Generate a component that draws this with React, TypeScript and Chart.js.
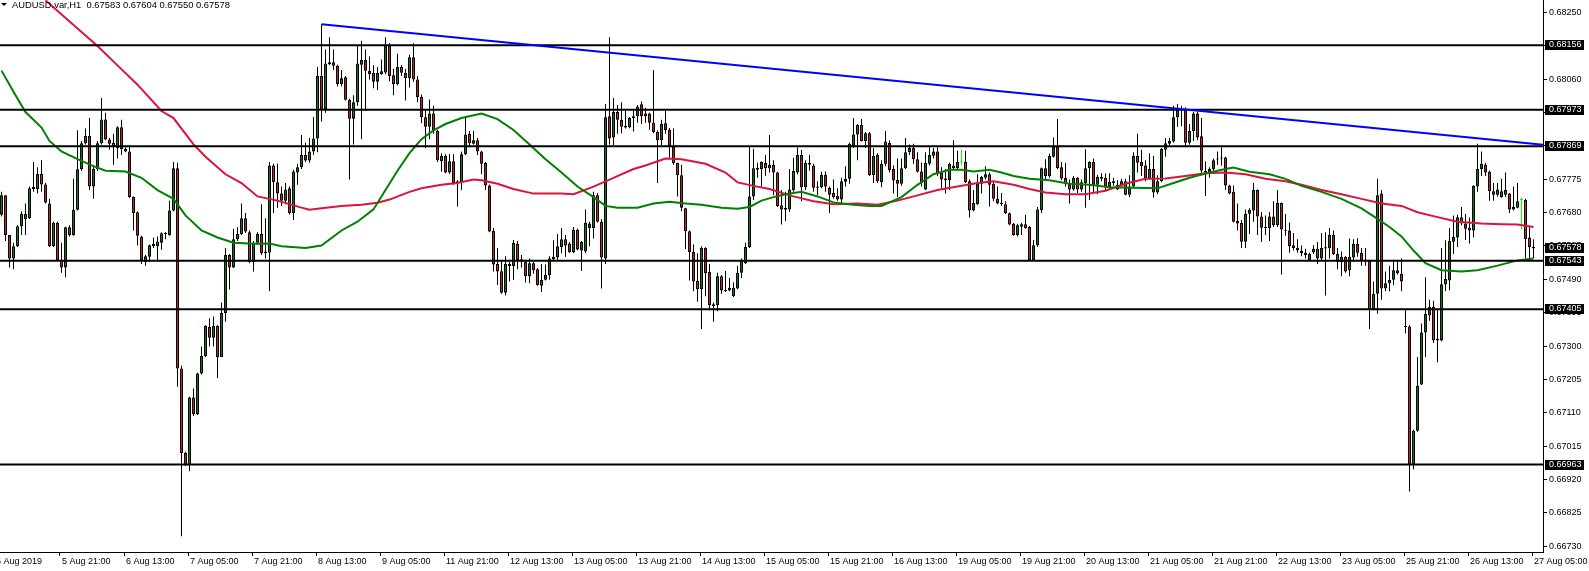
import React, { useEffect, useRef } from 'react';
import { Chart, registerables } from 'chart.js';

Chart.register(...registerables);

// ---------- data (AUDUSD H1, bar 0 = 5 Aug 2019 06:00) ----------
const opens = [
0.67674,0.67729,0.67616,0.67549,0.67584,0.67641,0.67676,0.67664,0.67753,0.67747,
0.67790,0.67760,0.67706,0.67584,0.67651,0.67544,0.67524,0.67638,0.67616,0.67688,
0.67803,0.67877,0.67898,0.67754,0.67804,0.67877,0.67945,0.67888,0.67879,0.67864,
0.67923,0.67861,0.67854,0.67724,0.67681,0.67611,0.67539,0.67554,0.67591,0.67584,
0.67594,0.67619,0.67616,0.67686,0.67806,0.67236,0.66996,0.66961,0.67154,0.67106,
0.67222,0.67272,0.67354,0.67324,0.67357,0.67269,0.67394,0.67559,0.67524,0.67604,
0.67619,0.67664,0.67624,0.67539,0.67594,0.67619,0.67569,0.67566,0.67814,0.67766,
0.67734,0.67714,0.67749,0.67679,0.67794,0.67809,0.67844,0.67828,0.67854,0.67891,
0.68069,0.67974,0.68102,0.68108,0.68098,0.68046,0.68065,0.68001,0.67947,0.67994,
0.68101,0.68114,0.68084,0.68077,0.68052,0.68074,0.68079,0.68156,0.68071,0.68046,
0.68094,0.68078,0.68062,0.68122,0.68059,0.68009,0.67951,0.67924,0.67962,0.67912,
0.67826,0.67842,0.67794,0.67826,0.67764,0.67766,0.67846,0.67904,0.67876,0.67886,
0.67854,0.67821,0.67757,0.67628,0.67534,0.67513,0.67452,0.67528,0.67528,0.67591,
0.67541,0.67539,0.67499,0.67536,0.67519,0.67472,0.67489,0.67502,0.67547,0.67552,
0.67582,0.67604,0.67592,0.67567,0.67631,0.67572,0.67569,0.67636,0.67636,0.67729,
0.67654,0.67549,0.67954,0.67894,0.67966,0.67944,0.67927,0.67922,0.67949,0.67954,
0.67988,0.67954,0.67962,0.67936,0.67909,0.67886,0.67934,0.67916,0.67869,0.67821,
0.67786,0.67692,0.67627,0.67568,0.67486,0.67462,0.67579,0.67511,0.67419,0.67416,
0.67499,0.67456,0.67458,0.67442,0.67464,0.67509,0.67536,0.67582,0.67726,0.67802,
0.67804,0.67821,0.67806,0.67816,0.67794,0.67701,0.67694,0.67689,0.67744,0.67794,
0.67844,0.67752,0.67822,0.67814,0.67751,0.67752,0.67787,0.67750,0.67736,0.67727,
0.67717,0.67768,0.67776,0.67869,0.67902,0.67929,0.67884,0.67906,0.67787,0.67844,
0.67766,0.67819,0.67878,0.67804,0.67773,0.67762,0.67806,0.67852,0.67864,0.67832,
0.67797,0.67746,0.67819,0.67842,0.67854,0.67794,0.67777,0.67772,0.67814,0.67807,
0.67823,0.67824,0.67769,0.67686,0.67704,0.67762,0.67779,0.67789,0.67762,0.67719,
0.67708,0.67704,0.67678,0.67648,0.67616,0.67640,0.67647,0.67639,0.67544,0.67587,
0.67687,0.67806,0.67784,0.67839,0.67867,0.67809,0.67779,0.67764,0.67746,0.67779,
0.67746,0.67764,0.67806,0.67824,0.67759,0.67782,0.67779,0.67752,0.67764,0.67759,
0.67757,0.67769,0.67731,0.67754,0.67841,0.67824,0.67814,0.67776,0.67804,0.67737,
0.67769,0.67859,0.67876,0.67882,0.67951,0.67971,0.67974,0.67879,0.67912,0.67962,
0.67897,0.67798,0.67794,0.67804,0.67831,0.67837,0.67837,0.67757,0.67739,0.67656,
0.67651,0.67597,0.67677,0.67686,0.67744,0.67669,0.67639,0.67636,0.67669,0.67644,
0.67707,0.67628,0.67629,0.67587,0.67579,0.67571,0.67566,0.67544,0.67567,0.67577,
0.67549,0.67578,0.67579,0.67616,0.67562,0.67539,0.67554,0.67516,0.67552,0.67591,
0.67566,0.67546,0.67542,0.67404,0.67449,0.67734,0.67464,0.67479,0.67489,0.67516,
0.67506,0.67356,0.67356,0.66961,0.67059,0.67191,0.67339,0.67387,0.67411,0.67321,
0.67316,0.67476,0.67487,0.67597,0.67609,0.67667,0.67649,0.67637,0.67629,0.67754,
0.67804,0.67816,0.67796,0.67741,0.67731,0.67724,0.67731,0.67734,0.67696,0.67694,
0.67716,0.67716,0.67609,0.67583
];

const highs = [
0.67739,0.67729,0.67616,0.67594,0.67644,0.67684,0.67706,0.67754,0.67824,0.67809,
0.67829,0.67764,0.67719,0.67654,0.67654,0.67594,0.67640,0.67644,0.67776,0.67914,
0.67884,0.67919,0.67949,0.67814,0.67884,0.68006,0.67964,0.67892,0.67904,0.67926,
0.67944,0.67866,0.67872,0.67726,0.67684,0.67614,0.67559,0.67589,0.67609,0.67612,
0.67624,0.67624,0.67714,0.67824,0.67822,0.67244,0.66999,0.67156,0.67179,0.67224,
0.67299,0.67359,0.67379,0.67384,0.67359,0.67424,0.67579,0.67562,0.67634,0.67639,
0.67706,0.67679,0.67629,0.67599,0.67624,0.67704,0.67664,0.67824,0.67819,0.67819,
0.67754,0.67764,0.67754,0.67802,0.67819,0.67901,0.67879,0.67892,0.67952,0.68094,
0.68216,0.68144,0.68179,0.68144,0.68101,0.68086,0.68069,0.68004,0.68014,0.68154,
0.68169,0.68144,0.68124,0.68099,0.68094,0.68116,0.68179,0.68162,0.68089,0.68132,
0.68099,0.68089,0.68129,0.68162,0.68069,0.68016,0.67974,0.68002,0.67984,0.67916,
0.67849,0.67846,0.67847,0.67846,0.67772,0.67854,0.67954,0.67912,0.67912,0.67892,
0.67856,0.67824,0.67759,0.67636,0.67579,0.67544,0.67556,0.67539,0.67602,0.67599,
0.67559,0.67542,0.67549,0.67539,0.67522,0.67534,0.67532,0.67556,0.67601,0.67619,
0.67636,0.67616,0.67596,0.67639,0.67634,0.67599,0.67689,0.67654,0.67739,0.67736,
0.67662,0.67989,0.68179,0.68006,0.67986,0.67994,0.67969,0.67952,0.67972,0.67986,
0.67996,0.67978,0.67964,0.68086,0.67914,0.67944,0.67969,0.67921,0.67919,0.67822,
0.67816,0.67694,0.67629,0.67589,0.67564,0.67584,0.67581,0.67534,0.67424,0.67509,
0.67502,0.67514,0.67494,0.67482,0.67529,0.67549,0.67594,0.67869,0.67862,0.67822,
0.67826,0.67844,0.67901,0.67829,0.67796,0.67744,0.67739,0.67804,0.67836,0.67866,
0.67858,0.67829,0.67844,0.67819,0.67769,0.67796,0.67797,0.67754,0.67774,0.67749,
0.67779,0.67812,0.67879,0.67949,0.67932,0.67946,0.67909,0.67909,0.67864,0.67849,
0.67829,0.67912,0.67886,0.67814,0.67834,0.67834,0.67892,0.67874,0.67876,0.67852,
0.67822,0.67852,0.67866,0.67864,0.67866,0.67809,0.67804,0.67822,0.67886,0.67856,
0.67859,0.67856,0.67774,0.67744,0.67789,0.67784,0.67812,0.67794,0.67766,0.67754,
0.67736,0.67712,0.67680,0.67650,0.67648,0.67651,0.67674,0.67642,0.67602,0.67696,
0.67808,0.67832,0.67848,0.67894,0.67946,0.67824,0.67821,0.67774,0.67784,0.67781,
0.67774,0.67860,0.67826,0.67834,0.67788,0.67792,0.67791,0.67792,0.67779,0.67772,
0.67776,0.67776,0.67786,0.67852,0.67904,0.67859,0.67829,0.67849,0.67842,0.67786,
0.67864,0.67892,0.67892,0.67984,0.67989,0.67984,0.67979,0.67932,0.67966,0.67966,
0.67949,0.67826,0.67809,0.67834,0.67854,0.67866,0.67839,0.67759,0.67757,0.67706,
0.67659,0.67689,0.67692,0.67764,0.67746,0.67682,0.67672,0.67682,0.67712,0.67744,
0.67709,0.67676,0.67652,0.67622,0.67604,0.67586,0.67577,0.67566,0.67587,0.67596,
0.67622,0.67624,0.67636,0.67629,0.67579,0.67569,0.67556,0.67606,0.67604,0.67607,
0.67579,0.67579,0.67546,0.67484,0.67776,0.67744,0.67512,0.67529,0.67546,0.67544,
0.67549,0.67402,0.67359,0.67062,0.67269,0.67364,0.67496,0.67432,0.67429,0.67404,
0.67579,0.67601,0.67636,0.67672,0.67674,0.67696,0.67676,0.67666,0.67758,0.67876,
0.67854,0.67822,0.67799,0.67764,0.67764,0.67776,0.67794,0.67736,0.67754,0.67764,
0.67722,0.67719,0.67639,0.67604
];

const lows = [
0.67669,0.67599,0.67524,0.67519,0.67582,0.67616,0.67616,0.67662,0.67739,0.67734,
0.67739,0.67706,0.67582,0.67582,0.67542,0.67509,0.67496,0.67612,0.67614,0.67686,
0.67799,0.67874,0.67744,0.67719,0.67799,0.67874,0.67886,0.67859,0.67816,0.67834,
0.67844,0.67852,0.67722,0.67629,0.67586,0.67534,0.67529,0.67539,0.67579,0.67539,
0.67574,0.67604,0.67614,0.67684,0.67184,0.66759,0.66959,0.66944,0.67101,0.67104,
0.67219,0.67269,0.67299,0.67299,0.67209,0.67269,0.67369,0.67461,0.67522,0.67599,
0.67616,0.67622,0.67536,0.67512,0.67589,0.67559,0.67549,0.67456,0.67679,0.67694,
0.67699,0.67704,0.67674,0.67659,0.67759,0.67804,0.67824,0.67822,0.67844,0.67852,
0.67939,0.67964,0.68099,0.68086,0.68039,0.68039,0.67999,0.67774,0.67874,0.67984,
0.67889,0.67969,0.68059,0.68034,0.68029,0.68072,0.68074,0.68054,0.68014,0.68042,
0.68069,0.67999,0.68036,0.68052,0.67994,0.67934,0.67864,0.67889,0.67904,0.67824,
0.67796,0.67792,0.67790,0.67759,0.67697,0.67744,0.67844,0.67866,0.67874,0.67844,
0.67789,0.67744,0.67624,0.67512,0.67474,0.67449,0.67444,0.67484,0.67489,0.67519,
0.67524,0.67481,0.67479,0.67506,0.67472,0.67454,0.67487,0.67489,0.67544,0.67544,
0.67564,0.67554,0.67566,0.67564,0.67572,0.67514,0.67564,0.67584,0.67606,0.67652,
0.67464,0.67534,0.67874,0.67872,0.67904,0.67906,0.67919,0.67920,0.67911,0.67936,
0.67932,0.67936,0.67916,0.67906,0.67764,0.67872,0.67904,0.67836,0.67816,0.67726,
0.67684,0.67576,0.67487,0.67456,0.67426,0.67349,0.67442,0.67402,0.67369,0.67399,
0.67449,0.67454,0.67456,0.67440,0.67462,0.67494,0.67534,0.67579,0.67716,0.67779,
0.67754,0.67784,0.67794,0.67729,0.67696,0.67646,0.67656,0.67682,0.67739,0.67789,
0.67712,0.67744,0.67799,0.67739,0.67729,0.67749,0.67739,0.67679,0.67719,0.67714,
0.67706,0.67754,0.67762,0.67864,0.67829,0.67882,0.67864,0.67784,0.67764,0.67764,
0.67752,0.67812,0.67794,0.67734,0.67724,0.67756,0.67804,0.67844,0.67819,0.67794,
0.67754,0.67744,0.67814,0.67834,0.67784,0.67749,0.67734,0.67744,0.67804,0.67804,
0.67814,0.67764,0.67666,0.67684,0.67702,0.67734,0.67774,0.67697,0.67712,0.67704,
0.67699,0.67676,0.67644,0.67614,0.67612,0.67616,0.67634,0.67542,0.67542,0.67582,
0.67679,0.67772,0.67779,0.67836,0.67804,0.67772,0.67754,0.67706,0.67742,0.67736,
0.67739,0.67694,0.67716,0.67736,0.67732,0.67769,0.67744,0.67744,0.67756,0.67744,
0.67754,0.67729,0.67724,0.67749,0.67794,0.67784,0.67769,0.67774,0.67722,0.67732,
0.67766,0.67839,0.67872,0.67879,0.67924,0.67926,0.67866,0.67874,0.67884,0.67886,
0.67789,0.67727,0.67779,0.67792,0.67816,0.67814,0.67744,0.67732,0.67652,0.67629,
0.67579,0.67579,0.67619,0.67654,0.67616,0.67596,0.67616,0.67599,0.67639,0.67639,
0.67504,0.67614,0.67566,0.67572,0.67566,0.67556,0.67549,0.67542,0.67562,0.67534,
0.67546,0.67444,0.67549,0.67559,0.67519,0.67499,0.67509,0.67499,0.67539,0.67554,
0.67529,0.67529,0.67349,0.67402,0.67392,0.67432,0.67456,0.67456,0.67474,0.67504,
0.67456,0.67336,0.66886,0.66949,0.67056,0.67189,0.67269,0.67372,0.67309,0.67254,
0.67314,0.67456,0.67459,0.67562,0.67582,0.67644,0.67602,0.67592,0.67609,0.67739,
0.67784,0.67784,0.67714,0.67714,0.67726,0.67722,0.67724,0.67679,0.67686,0.67692,
0.67632,0.67549,0.67549,0.67550
];

const closes = [
0.67729,0.67616,0.67549,0.67584,0.67641,0.67676,0.67662,0.67749,0.67747,0.67790,
0.67760,0.67709,0.67584,0.67651,0.67544,0.67524,0.67638,0.67616,0.67688,0.67803,
0.67877,0.67898,0.67754,0.67804,0.67877,0.67945,0.67888,0.67876,0.67869,0.67923,
0.67861,0.67854,0.67724,0.67679,0.67614,0.67544,0.67556,0.67587,0.67584,0.67598,
0.67621,0.67621,0.67686,0.67806,0.67236,0.66996,0.66961,0.67154,0.67106,0.67222,
0.67272,0.67357,0.67324,0.67357,0.67269,0.67394,0.67559,0.67524,0.67604,0.67619,
0.67664,0.67626,0.67539,0.67594,0.67619,0.67564,0.67564,0.67814,0.67766,0.67734,
0.67714,0.67746,0.67679,0.67797,0.67809,0.67844,0.67828,0.67854,0.67891,0.68069,
0.67974,0.68104,0.68108,0.68098,0.68046,0.68062,0.68001,0.67947,0.67994,0.68104,
0.68114,0.68084,0.68074,0.68052,0.68077,0.68082,0.68156,0.68069,0.68046,0.68094,
0.68078,0.68062,0.68122,0.68059,0.68009,0.67951,0.67924,0.67962,0.67912,0.67829,
0.67842,0.67794,0.67826,0.67764,0.67769,0.67846,0.67902,0.67877,0.67886,0.67854,
0.67819,0.67757,0.67626,0.67532,0.67512,0.67452,0.67534,0.67534,0.67594,0.67544,
0.67547,0.67499,0.67536,0.67516,0.67474,0.67489,0.67502,0.67549,0.67554,0.67584,
0.67604,0.67586,0.67567,0.67631,0.67575,0.67596,0.67651,0.67649,0.67729,0.67654,
0.67552,0.67951,0.67891,0.67966,0.67944,0.67924,0.67922,0.67949,0.67954,0.67982,
0.67954,0.67962,0.67936,0.67909,0.67886,0.67932,0.67914,0.67869,0.67821,0.67786,
0.67694,0.67627,0.67568,0.67484,0.67462,0.67579,0.67508,0.67416,0.67414,0.67499,
0.67458,0.67460,0.67466,0.67466,0.67509,0.67542,0.67582,0.67726,0.67806,0.67807,
0.67824,0.67806,0.67816,0.67794,0.67699,0.67689,0.67688,0.67746,0.67798,0.67844,
0.67752,0.67822,0.67816,0.67751,0.67754,0.67787,0.67754,0.67731,0.67724,0.67717,
0.67769,0.67776,0.67876,0.67902,0.67929,0.67884,0.67906,0.67787,0.67842,0.67769,
0.67819,0.67882,0.67801,0.67771,0.67762,0.67806,0.67852,0.67864,0.67832,0.67796,
0.67764,0.67821,0.67844,0.67854,0.67791,0.67774,0.67772,0.67818,0.67807,0.67824,
0.67823,0.67767,0.67686,0.67707,0.67762,0.67781,0.67789,0.67759,0.67719,0.67706,
0.67704,0.67678,0.67646,0.67616,0.67644,0.67647,0.67636,0.67544,0.67587,0.67689,
0.67806,0.67784,0.67841,0.67867,0.67807,0.67777,0.67762,0.67746,0.67779,0.67746,
0.67766,0.67806,0.67824,0.67759,0.67782,0.67776,0.67752,0.67767,0.67769,0.67746,
0.67769,0.67731,0.67754,0.67841,0.67822,0.67812,0.67776,0.67804,0.67737,0.67769,
0.67861,0.67877,0.67884,0.67951,0.67972,0.67974,0.67879,0.67912,0.67962,0.67894,
0.67799,0.67794,0.67804,0.67829,0.67834,0.67834,0.67757,0.67734,0.67654,0.67649,
0.67597,0.67676,0.67687,0.67744,0.67669,0.67637,0.67636,0.67669,0.67644,0.67707,
0.67632,0.67631,0.67584,0.67579,0.67572,0.67564,0.67559,0.67562,0.67577,0.67549,
0.67579,0.67581,0.67616,0.67562,0.67539,0.67554,0.67512,0.67554,0.67591,0.67566,
0.67544,0.67542,0.67404,0.67449,0.67729,0.67464,0.67479,0.67489,0.67516,0.67507,
0.67484,0.67354,0.66961,0.67059,0.67187,0.67339,0.67391,0.67411,0.67316,0.67316,
0.67476,0.67491,0.67599,0.67611,0.67667,0.67649,0.67634,0.67629,0.67756,0.67804,
0.67819,0.67794,0.67741,0.67731,0.67746,0.67741,0.67744,0.67689,0.67689,0.67712,
0.67716,0.67604,0.67581,0.67578
];

// moving averages, read at selected bars
const redMaBars = [11,19,24,29,34,40,43,48,51,56,60,64,69,75,77,80,85,90,94,97,102,105,110,114,118,120,124,128,133,140,143,148,153,158,161,166,170,176,181,184,188,192,197,203,208,214,219,224,229,234,239,244,248,253,257,261,266,271,276,281,286,291,296,301,306,311,316,321,325,330,335,340,345,350,354,359,364,370,375,379,383];
const redMaValues = [0.68284,0.68204,0.68154,0.68099,0.68044,0.67969,0.67949,0.67874,0.67839,0.67789,0.67764,0.67726,0.67714,0.67694,0.67688,0.67692,0.67699,0.67702,0.67708,0.67717,0.67739,0.67749,0.67759,0.67764,0.67774,0.67772,0.67762,0.67747,0.67734,0.67734,0.67732,0.67754,0.67779,0.67804,0.67814,0.67834,0.67832,0.67819,0.67794,0.67766,0.67756,0.67747,0.67729,0.67712,0.67704,0.67706,0.67702,0.67714,0.67729,0.67744,0.67754,0.67764,0.67769,0.67759,0.67747,0.67737,0.67732,0.67732,0.67742,0.67762,0.67776,0.67777,0.67784,0.67792,0.67794,0.67789,0.67776,0.67769,0.67759,0.67744,0.67732,0.67719,0.67706,0.67699,0.67681,0.67667,0.67654,0.67649,0.67647,0.67646,0.67639];
const greenMaBars = [0,3,6,10,12,15,19,23,26,31,35,39,43,46,50,54,58,63,67,70,76,80,85,89,93,96,99,102,105,108,111,115,120,124,128,132,136,140,144,148,151,154,159,163,167,171,175,180,184,187,190,193,196,200,204,208,213,217,220,225,229,233,237,240,243,247,250,253,257,262,267,272,277,283,289,293,297,302,306,308,312,317,321,325,330,335,340,344,347,350,353,356,360,365,369,374,379,383];
const greenMaValues = [0.68084,0.68024,0.67966,0.67922,0.67884,0.67854,0.67832,0.67812,0.67799,0.67797,0.67779,0.67744,0.67719,0.67672,0.67629,0.67609,0.67594,0.67591,0.67592,0.67584,0.67579,0.67586,0.67629,0.67654,0.67689,0.67744,0.67799,0.67849,0.67889,0.67914,0.67932,0.67949,0.67962,0.67946,0.67915,0.67874,0.67832,0.67794,0.67754,0.67724,0.67699,0.67694,0.67694,0.67706,0.67711,0.67706,0.67702,0.67694,0.67691,0.67696,0.67714,0.67724,0.67732,0.67739,0.67726,0.67709,0.67702,0.67699,0.67699,0.67724,0.67759,0.67789,0.67802,0.67802,0.67797,0.67802,0.67794,0.67784,0.67776,0.67772,0.67762,0.67759,0.67752,0.67751,0.67749,0.67764,0.67779,0.67794,0.67804,0.67808,0.67796,0.67789,0.67776,0.67756,0.67739,0.67719,0.67692,0.67662,0.67639,0.67612,0.67572,0.67536,0.67516,0.67512,0.67516,0.67529,0.67544,0.67549];

// trend line and horizontal levels
const trendBars = [80, 385.4];
const trendValues = [0.68216, 0.67873];
const levels = [0.68156, 0.67973, 0.67869, 0.67543, 0.67405, 0.66963];
const lastPrice = 0.67578;

// axis ticks
const priceTicks = [0.66730,0.66825,0.66920,0.67015,0.67110,0.67205,0.67300,0.67395,0.67490,0.67585,0.67680,0.67775,0.67870,0.67965,0.68060,0.68155,0.68250];
const timeLabelBars = [-1.5,15,31,47,63,79,95,111,127,143,159,175,191,207,223,239,255,271,287,303,319,335,351,367,383];
const timeLabels = ['5 Aug 2019','5 Aug 21:00','6 Aug 13:00','7 Aug 05:00','7 Aug 21:00','8 Aug 13:00','9 Aug 05:00','11 Aug 21:00','12 Aug 13:00','13 Aug 05:00','13 Aug 21:00','14 Aug 13:00','15 Aug 05:00','15 Aug 21:00','16 Aug 13:00','19 Aug 05:00','19 Aug 21:00','20 Aug 13:00','21 Aug 05:00','21 Aug 21:00','22 Aug 13:00','23 Aug 05:00','25 Aug 21:00','26 Aug 13:00','27 Aug 05:00'];
const titleText = 'AUDUSD.var,H1  0.67583 0.67604 0.67550 0.67578';

// ---------- styling ----------
const W = 1589;
const H = 571;
const FONT = 'Liberation Sans';
const UP = '#008000';
const DOWN = '#c81e32';
const DOJI = '#00ff00';
const X_MIN = -0.375;
const X_MAX = 385.375;
const Y_MIN = 0.66714;
const Y_MAX = 0.68285;

const overlayPlugin = {
  id: 'mtOverlay',
  afterDraw(chart: any) {
    const ctx = chart.ctx;
    const yScale = chart.scales.y;
    const area = chart.chartArea;
    ctx.save();
    ctx.font = `9px "${FONT}"`;
    ctx.textAlign = 'left';
    ctx.textBaseline = 'middle';
    [...levels, lastPrice].forEach((v) => {
      const py = Math.round(yScale.getPixelForValue(v));
      ctx.fillStyle = '#000';
      ctx.fillRect(area.right + 2, py - 5, 39, 10);
      ctx.fillStyle = '#fff';
      ctx.fillText(v.toFixed(5), area.right + 6, py);
    });
    ctx.fillStyle = '#000';
    ctx.font = `9.4px "${FONT}"`;
    ctx.textBaseline = 'alphabetic';
    ctx.fillText(titleText, 12, 8);
    ctx.beginPath();
    ctx.moveTo(1, 3);
    ctx.lineTo(7, 3);
    ctx.lineTo(4, 6);
    ctx.closePath();
    ctx.fill();
    ctx.restore();
  },
};

export default function App() {
  const canvasRef = useRef<HTMLCanvasElement | null>(null);

  useEffect(() => {
    const canvas = canvasRef.current;
    if (!canvas) return;

    const bodyColors = opens.map((o, i) => (closes[i] > o ? UP : closes[i] < o ? DOWN : DOJI));
    const edgeColors = opens.map((o, i) => (closes[i] === o ? DOJI : '#000'));

    const lineStyle = (color: string, order: number) => ({
      type: 'line' as const,
      borderColor: color,
      borderWidth: 2,
      pointRadius: 0,
      fill: false,
      tension: 0,
      order,
    });

    const datasets: any[] = [
      {
        type: 'bar',
        label: 'wicks',
        data: lows.map((l, i) => ({ x: i, y: [l, highs[i]] })),
        backgroundColor: edgeColors,
        borderWidth: 0,
        barThickness: 1,
        grouped: false,
        inflateAmount: 0,
        order: 10,
      },
      {
        type: 'bar',
        label: 'bodies',
        data: opens.map((o, i) => ({ x: i, y: [o, closes[i]] })),
        backgroundColor: bodyColors,
        borderColor: edgeColors,
        borderWidth: 1,
        borderSkipped: false,
        barThickness: 3,
        minBarLength: 1,
        grouped: false,
        inflateAmount: 0,
        order: 9,
      },
      {
        ...lineStyle('#dc143c', 5),
        label: 'MA red',
        data: redMaBars.map((b, i) => ({ x: b, y: redMaValues[i] })),
      },
      {
        ...lineStyle('#008000', 4),
        label: 'MA green',
        data: greenMaBars.map((b, i) => ({ x: b, y: greenMaValues[i] })),
      },
      ...levels.map((v) => ({
        ...lineStyle('#000', 1),
        label: 'level ' + v,
        data: [
          { x: X_MIN, y: v },
          { x: X_MAX, y: v },
        ],
      })),
      {
        ...lineStyle('#0000ff', 0),
        label: 'trend',
        data: trendBars.map((b, i) => ({ x: b, y: trendValues[i] })),
      },
    ];

    const chart = new Chart(canvas, {
      type: 'bar',
      data: { datasets },
      plugins: [overlayPlugin],
      options: {
        animation: false,
        responsive: false,
        maintainAspectRatio: false,
        devicePixelRatio: 1,
        events: [],
        layout: { padding: 0 },
        plugins: {
          legend: { display: false },
          tooltip: { enabled: false },
          title: { display: false },
        },
        scales: {
          x: {
            type: 'linear',
            min: X_MIN,
            max: X_MAX,
            offset: false,
            grid: {
              drawOnChartArea: false,
              drawTicks: true,
              tickLength: 4,
              color: '#000',
              offset: false,
            },
            border: { display: true, color: '#000', width: 1 },
            ticks: {
              autoSkip: false,
              maxRotation: 0,
              minRotation: 0,
              align: 'start',
              labelOffset: 2,
              padding: 0,
              color: '#000',
              font: { family: FONT, size: 9 },
              callback: (_v: any, idx: number) => timeLabels[idx],
            },
            afterBuildTicks: (s: any) => {
              s.ticks = timeLabelBars.map((b) => ({ value: b - 0.375 }));
            },
            afterFit: (s: any) => {
              s.height = H - 552;
              s.paddingLeft = 0;
              s.paddingRight = 0;
            },
          },
          y: {
            type: 'linear',
            position: 'right',
            min: Y_MIN,
            max: Y_MAX,
            grid: {
              drawOnChartArea: false,
              drawTicks: true,
              tickLength: 4,
              color: '#000',
            },
            border: { display: true, color: '#000', width: 1 },
            ticks: {
              autoSkip: false,
              padding: 2,
              color: '#000',
              font: { family: FONT, size: 9 },
              callback: (v: any) => Number(v).toFixed(5),
            },
            afterBuildTicks: (s: any) => {
              s.ticks = priceTicks.map((v) => ({ value: v }));
            },
            afterFit: (s: any) => {
              s.width = W - 1543;
              s.paddingTop = 0;
              s.paddingBottom = 0;
            },
          },
        },
      } as any,
    });

    return () => {
      chart.destroy();
    };
  }, []);

  return (
    <div
      style={{
        position: 'fixed',
        left: 0,
        top: 0,
        width: W,
        height: H,
        background: '#fff',
        overflow: 'hidden',
      }}
    >
      <canvas ref={canvasRef} width={W} height={H} style={{ width: W, height: H, display: 'block' }} />
    </div>
  );
}
